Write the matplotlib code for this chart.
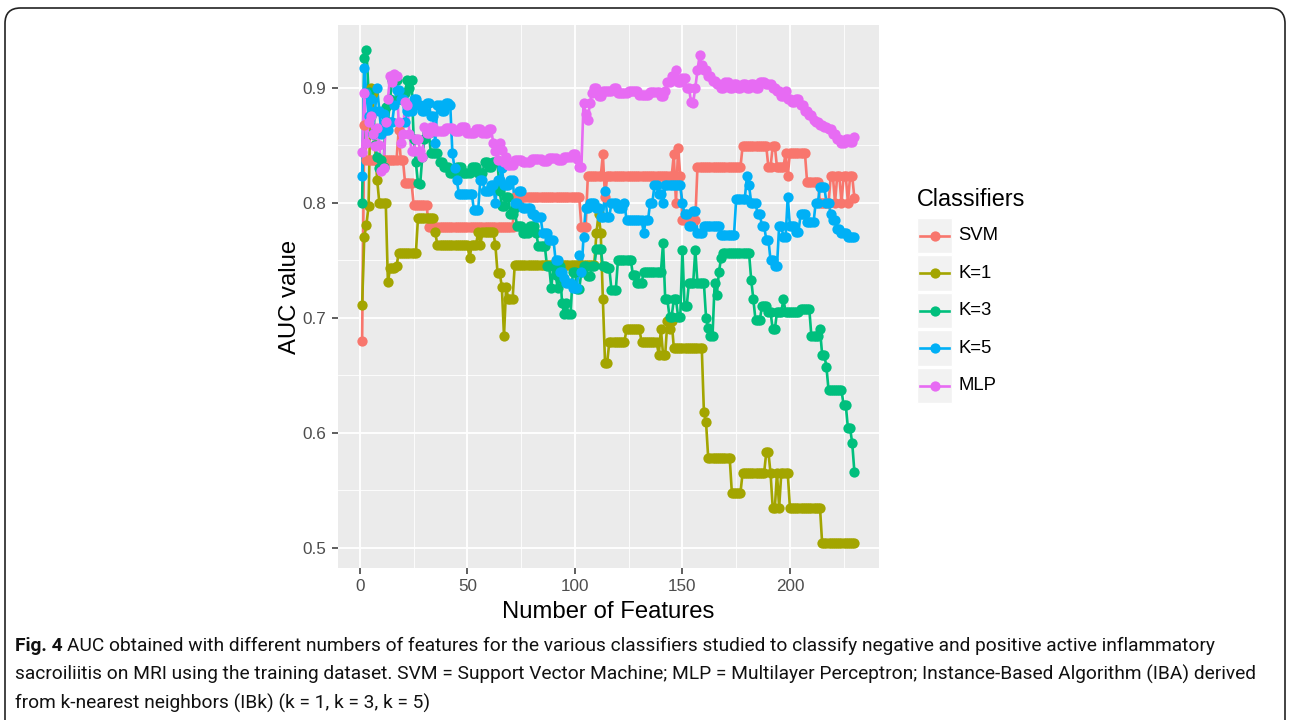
import numpy as np
import matplotlib
matplotlib.use('Agg')
import matplotlib.pyplot as plt
from matplotlib.patches import FancyBboxPatch, Rectangle
from matplotlib.lines import Line2D

plt.rcParams['font.family'] = ['Liberation Sans', 'DejaVu Sans']

# values read off the chart as runs: each AUC value holds from its start feature
# until the next start (the points sit on every integer number of features)
n_max = 230

svm_start = [1, 2, 3, 18, 19, 21, 25, 32, 72, 103, 106, 113, 114, 115, 146, 147, 148, 149,
             150, 157, 178, 190, 192, 194, 198, 199, 200, 208, 214, 219, 221, 222, 224, 225,
             227, 228, 230]
svm_auc = [0.680, 0.868, 0.837, 0.863, 0.837, 0.817, 0.798, 0.779, 0.805, 0.779, 0.823, 0.842,
           0.805, 0.823, 0.842, 0.800, 0.848, 0.823, 0.785, 0.831, 0.849, 0.831, 0.849, 0.831,
           0.843, 0.823, 0.843, 0.818, 0.800, 0.823, 0.800, 0.823, 0.800, 0.823, 0.800, 0.823,
           0.804]

k1_start = [1, 2, 3, 4, 5, 6, 7, 8, 9, 13, 14, 17, 18, 27, 35, 36, 51, 52, 55, 56, 57, 63, 64,
            66, 67, 68, 69, 72, 110, 111, 112, 113, 114, 116, 124, 131, 139, 140, 141, 143, 144,
            145, 146, 160, 161, 162, 173, 178, 189, 191, 192, 194, 195, 196, 200, 215]
k1_auc = [0.711, 0.770, 0.781, 0.797, 0.900, 0.895, 0.850, 0.820, 0.800, 0.731, 0.743, 0.745,
          0.756, 0.787, 0.775, 0.763, 0.752, 0.763, 0.775, 0.763, 0.775, 0.763, 0.739, 0.727,
          0.684, 0.727, 0.716, 0.746, 0.774, 0.790, 0.774, 0.716, 0.661, 0.679, 0.690, 0.679,
          0.668, 0.690, 0.668, 0.697, 0.690, 0.697, 0.674, 0.618, 0.609, 0.578, 0.548, 0.565,
          0.583, 0.565, 0.535, 0.565, 0.535, 0.565, 0.535, 0.504]

k3_start = [1, 2, 3, 4, 5, 6, 7, 8, 9, 10, 11, 12, 13, 14, 15, 18, 20, 22, 23, 24, 25, 26, 27,
            28, 29, 30, 31, 33, 37, 39, 42, 45, 48, 52, 55, 58, 60, 62, 65, 66, 68, 70, 72, 73,
            76, 79, 82, 83, 87, 89, 90, 91, 92, 93, 94, 95, 96, 97, 99, 101, 103, 104, 106, 108,
            110, 113, 115, 117, 120, 127, 129, 132, 141, 142, 144, 146, 148, 150, 151, 153, 156,
            157, 161, 162, 163, 165, 166, 167, 168, 169, 182, 183, 184, 187, 190, 192, 194, 197,
            198, 205, 210, 214, 215, 217, 218, 225, 227, 229, 230]
k3_auc = [0.800, 0.926, 0.933, 0.896, 0.875, 0.860, 0.850, 0.840, 0.830, 0.837, 0.831, 0.883,
          0.870, 0.890, 0.907, 0.890, 0.895, 0.907, 0.900, 0.907, 0.855, 0.835, 0.817, 0.816,
          0.840, 0.855, 0.861, 0.843, 0.835, 0.831, 0.826, 0.831, 0.826, 0.831, 0.826, 0.835,
          0.831, 0.835, 0.810, 0.797, 0.805, 0.790, 0.795, 0.780, 0.774, 0.780, 0.774, 0.762,
          0.745, 0.726, 0.745, 0.737, 0.726, 0.745, 0.713, 0.703, 0.713, 0.703, 0.740, 0.725,
          0.740, 0.745, 0.736, 0.745, 0.760, 0.745, 0.743, 0.724, 0.750, 0.737, 0.730, 0.740,
          0.765, 0.716, 0.701, 0.716, 0.701, 0.759, 0.710, 0.730, 0.759, 0.730, 0.700, 0.691,
          0.684, 0.730, 0.720, 0.740, 0.752, 0.756, 0.733, 0.716, 0.698, 0.710, 0.705, 0.690,
          0.705, 0.716, 0.705, 0.708, 0.684, 0.690, 0.668, 0.657, 0.637, 0.624, 0.604, 0.591,
          0.566]

k5_start = [1, 2, 3, 4, 5, 6, 7, 8, 9, 10, 11, 12, 14, 16, 17, 19, 21, 22, 25, 27, 29, 31, 33,
            35, 36, 38, 40, 42, 43, 44, 45, 46, 53, 56, 58, 61, 63, 64, 66, 67, 70, 72, 74, 76,
            80, 82, 85, 88, 91, 93, 95, 96, 99, 102, 103, 104, 105, 107, 110, 112, 114, 115, 117,
            120, 123, 124, 132, 133, 135, 137, 139, 141, 142, 150, 151, 153, 155, 157, 160, 168,
            175, 180, 181, 182, 185, 187, 189, 191, 193, 195, 197, 199, 200, 203, 205, 208, 212,
            214, 217, 219, 220, 222, 224, 227]
k5_auc = [0.823, 0.917, 0.895, 0.875, 0.890, 0.860, 0.880, 0.900, 0.880, 0.860, 0.877, 0.863,
          0.870, 0.885, 0.898, 0.890, 0.870, 0.880, 0.890, 0.885, 0.880, 0.887, 0.875, 0.852,
          0.885, 0.880, 0.887, 0.885, 0.843, 0.830, 0.820, 0.808, 0.794, 0.820, 0.810, 0.815,
          0.800, 0.820, 0.830, 0.815, 0.820, 0.800, 0.810, 0.795, 0.790, 0.788, 0.774, 0.768,
          0.750, 0.740, 0.735, 0.730, 0.726, 0.755, 0.740, 0.770, 0.795, 0.800, 0.795, 0.788,
          0.810, 0.788, 0.800, 0.795, 0.800, 0.785, 0.774, 0.785, 0.800, 0.815, 0.808, 0.800,
          0.815, 0.800, 0.790, 0.780, 0.793, 0.774, 0.780, 0.772, 0.803, 0.823, 0.815, 0.800,
          0.790, 0.780, 0.768, 0.750, 0.745, 0.780, 0.770, 0.805, 0.780, 0.775, 0.790, 0.783,
          0.800, 0.814, 0.800, 0.790, 0.785, 0.777, 0.774, 0.770]

mlp_start = [1, 2, 3, 4, 5, 6, 7, 8, 9, 10, 11, 12, 13, 14, 15, 16, 17, 18, 19, 20, 21, 22, 23,
             24, 26, 28, 29, 30, 31, 33, 35, 40, 44, 47, 50, 54, 57, 60, 62, 63, 64, 65, 66, 67,
             68, 69, 72, 76, 80, 85, 88, 92, 95, 99, 101, 102, 104, 105, 106, 107, 108, 109, 111,
             113, 118, 120, 125, 130, 135, 140, 142, 143, 145, 147, 148, 150, 152, 154, 155, 156,
             157, 158, 159, 160, 162, 164, 166, 168, 170, 172, 174, 176, 178, 180, 182, 184, 186,
             189, 192, 194, 196, 198, 199, 201, 203, 205, 207, 209, 211, 212, 214, 216, 218, 220,
             222, 224, 226, 228, 230]
mlp_auc = [0.844, 0.895, 0.852, 0.870, 0.875, 0.860, 0.849, 0.865, 0.850, 0.828, 0.830, 0.870,
           0.890, 0.910, 0.905, 0.912, 0.910, 0.870, 0.852, 0.860, 0.888, 0.885, 0.860, 0.845,
           0.855, 0.845, 0.840, 0.866, 0.861, 0.866, 0.862, 0.865, 0.862, 0.866, 0.861, 0.864,
           0.861, 0.864, 0.852, 0.845, 0.837, 0.852, 0.846, 0.835, 0.840, 0.833, 0.837, 0.835,
           0.838, 0.836, 0.839, 0.837, 0.840, 0.842, 0.838, 0.831, 0.887, 0.877, 0.872, 0.887,
           0.895, 0.900, 0.893, 0.897, 0.900, 0.895, 0.897, 0.894, 0.896, 0.893, 0.897, 0.905,
           0.910, 0.915, 0.905, 0.908, 0.900, 0.888, 0.887, 0.900, 0.915, 0.928, 0.920, 0.915,
           0.910, 0.906, 0.903, 0.900, 0.905, 0.900, 0.903, 0.900, 0.903, 0.900, 0.903, 0.900,
           0.905, 0.903, 0.900, 0.897, 0.893, 0.897, 0.890, 0.888, 0.890, 0.885, 0.880, 0.876,
           0.872, 0.870, 0.868, 0.866, 0.864, 0.860, 0.855, 0.852, 0.855, 0.853, 0.857]

classifiers = ['SVM', 'K=1', 'K=3', 'K=5', 'MLP']
colors = ['#F8766D', '#A3A500', '#00BF7D', '#00B0F6', '#E76BF3']


def expand(start, vals):
    counts = np.diff(list(start) + [n_max + 1])
    return np.repeat(vals, counts)


features = np.arange(1, n_max + 1)
series = [expand(svm_start, svm_auc), expand(k1_start, k1_auc), expand(k3_start, k3_auc),
          expand(k5_start, k5_auc), expand(mlp_start, mlp_auc)]

W, H = 1290, 720
fig = plt.figure(figsize=(W / 100, H / 100), dpi=100)

# outer frame of the figure panel (bottom edge runs off the image)
frame = FancyBboxPatch((5 / W, -40 / H), 1280 / W, 752 / H,
                       boxstyle='round,pad=0,rounding_size=0.012',
                       transform=fig.transFigure, fill=False, ec='#222222', lw=1.2,
                       mutation_aspect=W / H)
fig.patches.append(frame)

px_l, px_r, px_t, px_b = 337.5, 879, 25, 568
ax = fig.add_axes([px_l / W, 1 - px_b / H, (px_r - px_l) / W, (px_b - px_t) / H])
ax.set_facecolor('#EBEBEB')
for s in ax.spines.values():
    s.set_visible(False)

ax.set_xlim(-10.45, 241.45)
ax.set_ylim(0.4825, 0.9545)
ax.set_xticks([0, 50, 100, 150, 200])
ax.set_xticks([25, 75, 125, 175, 225], minor=True)
ax.set_yticks([0.5, 0.6, 0.7, 0.8, 0.9])
ax.set_yticklabels(['0.5', '0.6', '0.7', '0.8', '0.9'])
ax.set_yticks([0.55, 0.65, 0.75, 0.85], minor=True)
ax.grid(True, which='major', color='white', lw=1.3)
ax.grid(True, which='minor', color='white', lw=0.6)
ax.set_axisbelow(True)
ax.tick_params(which='major', length=4, width=1.1, color='#333333', labelcolor='#4D4D4D',
               labelsize=12.3, pad=4)
ax.tick_params(which='minor', length=0)

for y, c in zip(series, colors):
    ax.plot(features, y, color=c, lw=1.9, zorder=2)
for y, c in zip(series, colors):
    ax.plot(features, y, ls='none', marker='o', ms=7.4, color=c, mec='none', zorder=3)

fig.text(290 / W, 1 - 296.5 / H, 'AUC value', rotation=90, ha='center', va='center',
         fontsize=17.2, color='black')
fig.text(608 / W, 1 - 612 / H, 'Number of Features', ha='center', va='center',
         fontsize=17.2, color='black')

# legend drawn by hand to sit like the ggplot guide
fig.text(917 / W, 1 - 200 / H, 'Classifiers', ha='left', va='center', fontsize=16.8)
key_y = [235.5, 273, 310.5, 348, 385.5]
for lab, c, ky in zip(classifiers, colors, key_y):
    fig.patches.append(Rectangle((917 / W, 1 - (ky + 17.5) / H), 35 / W, 35 / H,
                                 transform=fig.transFigure, fc='#F2F2F2', ec='white', lw=1))
    fig.lines.append(Line2D([920 / W, 949 / W], [1 - ky / H, 1 - ky / H], color=c, lw=1.9,
                            transform=fig.transFigure))
    fig.lines.append(Line2D([934.5 / W], [1 - ky / H], marker='o', ms=7.4, color=c, mec='none',
                            transform=fig.transFigure))
    fig.text(958 / W, 1 - ky / H, lab, ha='left', va='center', fontsize=13.3)

# caption, fitted to the width of the first line
cap_font = ['Liberation Sans Narrow', 'Roboto', 'DejaVu Sans']
lines = ['AUC obtained with different numbers of features for the various classifiers studied '
         'to classify negative and positive active inflammatory',
         'sacroiliitis on MRI using the training dataset. SVM = Support Vector Machine; '
         'MLP = Multilayer Perceptron; Instance-Based Algorithm (IBA) derived',
         'from k-nearest neighbors (IBk) (k = 1, k = 3, k = 5)']
base_y = [651, 680, 709]

r = fig.canvas.get_renderer()
fs = 14
t_bold = fig.text(15 / W, 1 - base_y[0] / H, 'Fig. 4 ', fontsize=fs, fontweight='bold',
                  family=cap_font, va='baseline', color='#111111')
t1 = fig.text(0, 1 - base_y[0] / H, lines[0], fontsize=fs, family=cap_font, va='baseline',
              color='#111111')
wb = t_bold.get_window_extent(r).width
w1 = t1.get_window_extent(r).width
fs = fs * (1228 - 15) / (wb + w1)
t_bold.set_fontsize(fs)
t1.set_fontsize(fs)
wb = t_bold.get_window_extent(r).width
t1.set_x((15 + wb) / W)
for txt, yb in zip(lines[1:], base_y[1:]):
    fig.text(15 / W, 1 - yb / H, txt, fontsize=fs, family=cap_font, va='baseline',
             color='#111111')

fig.savefig('out.png', dpi=100)
